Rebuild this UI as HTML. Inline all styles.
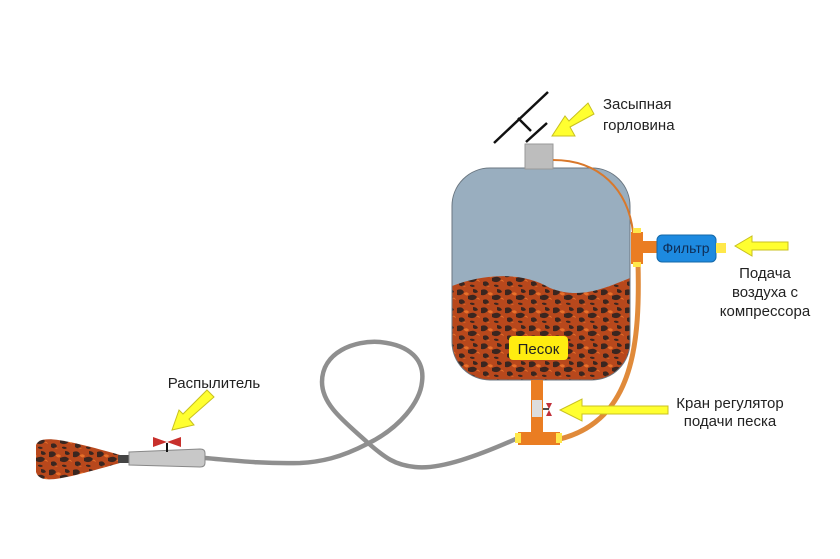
<!DOCTYPE html>
<html><head><meta charset="utf-8"><style>
html,body{margin:0;padding:0;background:#fff;}
svg{display:block;}
text{font-family:"Liberation Sans",sans-serif;fill:#222;}
</style></head><body>
<svg width="840" height="559" viewBox="0 0 840 559" xmlns="http://www.w3.org/2000/svg">
<defs>
<pattern id="sand" width="24" height="18" patternUnits="userSpaceOnUse">
<rect width="24" height="18" fill="#b8481c"/>
<path d="M1,2 q5,-2 7,2 q-2,4 -7,3z M12,8 q6,-3 9,1 q-3,5 -9,2z M3,12 q4,-2 6,2 q-2,4 -6,1z M17,1 q4,0 5,3 q-3,2 -5,0z M14,15 q3,-1 5,1 q-2,2 -5,0z" fill="#3a2620"/>
<path d="M8,5 q3,-2 5,1 q-2,3 -5,0z M20,10 q3,-1 4,2z M6,16 q2,-1 4,1z" fill="#e8702a"/>
</pattern>
<clipPath id="tank"><rect x="452" y="168" width="178" height="212" rx="38"/></clipPath>
</defs>
<!-- hose -->
<path d="M518,438 C480,455 440,470 415,467 C395,465 385,458 367,442 C345,422 322,405 322,382 C322,352 355,340 380,342 C410,345 425,360 422,382 C420,402 400,428 367,444 C340,458 320,462 300,463 C260,464 230,460 205,458" fill="none" stroke="#8f8f8f" stroke-width="4.5"/>
<!-- tank -->
<g clip-path="url(#tank)">
<rect x="452" y="168" width="178" height="212" fill="#99aebf"/>
<path d="M452,286 C480,275 520,270 550,288 C580,300 605,288 630,278 L630,380 L452,380Z" fill="url(#sand)"/>
</g>
<rect x="452" y="168" width="178" height="212" rx="38" fill="none" stroke="#6a7680" stroke-width="1"/>
<rect x="509" y="336" width="59" height="24" rx="4" fill="#ffec10"/>
<text x="538.5" y="354" font-size="15" text-anchor="middle">Песок</text>
<!-- neck & cap -->
<rect x="525" y="144" width="28" height="25" fill="#bdbdbd" stroke="#999"/>
<line x1="494" y1="143" x2="548" y2="92" stroke="#111" stroke-width="2.5"/>
<line x1="526" y1="142" x2="547" y2="123" stroke="#111" stroke-width="2.5"/>
<line x1="518" y1="118" x2="531" y2="131" stroke="#111" stroke-width="2.5"/>
<!-- orange tube -->
<path d="M553,160 C600,160 628,190 633,232" fill="none" stroke="#d9782b" stroke-width="2"/>
<path d="M638,262 C640,340 635,420 560,439" fill="none" stroke="#e08a3a" stroke-width="5"/>
<rect x="631" y="232" width="12" height="32" fill="#ea7d22"/>
<rect x="643" y="241" width="14" height="12" fill="#ea7d22"/>
<rect x="633" y="228" width="8" height="5" fill="#ffe84a"/>
<rect x="633" y="262" width="8" height="5" fill="#ffe84a"/>
<rect x="657" y="235" width="59" height="27" rx="5" fill="#1d8ae0" stroke="#1468a8"/>
<text x="686" y="253" font-size="14" text-anchor="middle" style="fill:#0f2d55">Фильтр</text>
<rect x="716" y="243" width="10" height="10" fill="#ffe84a"/>
<!-- bottom pipe -->
<rect x="531" y="380" width="12" height="60" fill="#ea7d22"/>
<rect x="532" y="400" width="10" height="17" fill="#ddd"/>
<path d="M546,403 L552,403 L549,409Z M546,416 L552,416 L549,410Z" fill="#c0303a"/>
<line x1="543" y1="409" x2="549" y2="409" stroke="#111" stroke-width="1.5"/>
<rect x="518" y="432" width="42" height="13" fill="#ea7d22"/>
<rect x="515" y="433" width="6" height="10" fill="#ffe84a"/>
<rect x="556" y="433" width="6" height="10" fill="#ffe84a"/>
<!-- sprayer -->
<path d="M36,445 C40,435 60,438 120,455 L120,463 C60,480 40,485 36,472Z" fill="url(#sand)"/>
<rect x="118" y="455" width="12" height="8" fill="#444"/>
<path d="M129,452 L200,449 Q205,449 205,453 L205,463 Q205,467 200,467 L129,465Z" fill="#c8c8c8" stroke="#888"/>
<line x1="167" y1="443" x2="167" y2="452" stroke="#111" stroke-width="2"/>
<path d="M153,437 L167,442 L153,447Z M181,437 L167,442 L181,447Z" fill="#c8302c"/>
<!-- arrows -->
<g fill="#ffff30" stroke="#c8c020" stroke-width="1">
<path d="M588,103 L594,114 L570,127 L575,136 L552,136 L565,116 L569,121Z"/>
<path d="M788,242 L788,250 L752,250 L752,256 L735,246 L752,236 L752,242Z"/>
<path d="M668,406 L668,414 L582,414 L582,421 L560,410 L582,399 L582,406Z"/>
<path d="M207,390 L214,397 L189,419 L194,425 L172,430 L179,410 L183,414Z"/>
</g>
<!-- labels -->
<text x="603" y="109" font-size="15">Засыпная</text>
<text x="603" y="130" font-size="15">горловина</text>
<text x="765" y="278" font-size="15" text-anchor="middle">Подача</text>
<text x="765" y="297" font-size="15" text-anchor="middle">воздуха с</text>
<text x="765" y="316" font-size="15" text-anchor="middle">компрессора</text>
<text x="730" y="408" font-size="15" text-anchor="middle">Кран регулятор</text>
<text x="730" y="426" font-size="15" text-anchor="middle">подачи песка</text>
<text x="214" y="388" font-size="15" text-anchor="middle">Распылитель</text>
</svg>
</body></html>
